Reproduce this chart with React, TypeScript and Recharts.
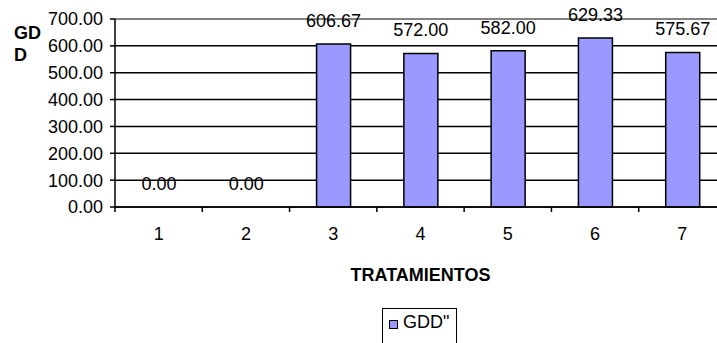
import React from 'react';
import { BarChart, Bar, Cell, XAxis, YAxis, CartesianGrid, Legend, LabelList, ReferenceLine } from 'recharts';

const TREATMENTS = ['1', '2', '3', '4', '5', '6', '7'];
const GDD_VALUES = [0, 0, 606.67, 572.0, 582.0, 629.33, 575.67];
const Y_TICKS = [0, 100, 200, 300, 400, 500, 600, 700];

const chartData = TREATMENTS.map((t, i) => ({ name: t, gdd: GDD_VALUES[i] }));

const FONT = '"Liberation Sans", Arial, sans-serif';
const BAR_FILL = '#9999FF';

// category ticks sit on the band boundaries, not the centres
function CategoryTick(props: any) {
  const { x, y, payload, width } = props;
  const band = width / TREATMENTS.length;
  const axisY = y - 5;
  const left = x - band / 2;
  return (
    <g>
      <line x1={left} y1={axisY} x2={left} y2={axisY + 5} stroke="#000" strokeWidth={1.5} />
      <text x={x} y={axisY + 33} textAnchor="middle" fontSize={18} fontFamily={FONT} fill="#000">
        {payload.value}
      </text>
    </g>
  );
}

function LegendBox() {
  return (
    <div
      style={{
        border: '1px solid #000',
        height: 40,
        width: 75,
        boxSizing: 'border-box',
        display: 'flex',
        alignItems: 'flex-start',
        paddingTop: 3,
        paddingLeft: 6,
        fontFamily: FONT,
        fontSize: 18,
        color: '#000',
        background: '#fff',
      }}
    >
      <span
        style={{
          display: 'inline-block',
          width: 7,
          height: 7,
          background: BAR_FILL,
          border: '1px solid #000',
          marginTop: 8,
          marginRight: 5,
        }}
      />
      <span>GDD"</span>
    </div>
  );
}

export default function App() {
  return (
    <div style={{ position: 'absolute', left: 0, top: 0, width: 717, height: 343, overflow: 'hidden', background: '#fff' }}>
      <BarChart width={740} height={343} data={chartData} margin={{ top: 19, right: 14, left: 0, bottom: 0 }}>
        <CartesianGrid vertical={false} stroke="#000" strokeWidth={1.5} />
        <ReferenceLine y={700} stroke="#808080" strokeWidth={2} />
        <XAxis
          dataKey="name"
          height={136}
          tickLine={false}
          tickSize={5}
          tickMargin={0}
          tick={<CategoryTick />}
          axisLine={{ stroke: '#000', strokeWidth: 1.5 }}
          label={{
            value: 'TRATAMIENTOS',
            position: 'insideTop',
            offset: 61,
            style: { fontFamily: FONT, fontSize: 18, fontWeight: 'bold', fill: '#000' },
          }}
        />
        <YAxis
          width={115}
          domain={[0, 700]}
          ticks={Y_TICKS}
          tickFormatter={(v: number) => v.toFixed(2)}
          tickSize={5}
          tickMargin={7}
          tickLine={{ stroke: '#000', strokeWidth: 1.5 }}
          axisLine={{ stroke: '#000', strokeWidth: 1.5 }}
          tick={{ fontFamily: FONT, fontSize: 18, fill: '#000' }}
          label={{
            content: () => (
              <text fontFamily={FONT} fontSize={18} fontWeight="bold" fill="#000">
                <tspan x={14} y={39}>GD</tspan>
                <tspan x={14} y={61}>D</tspan>
              </text>
            ),
          }}
        />
        <Legend
          verticalAlign="middle"
          align="center"
          layout="horizontal"
          wrapperStyle={{ top: 308, left: 382, width: 'auto' }}
          content={() => <LegendBox />}
        />
        <Bar
          dataKey="gdd"
          name={'GDD"'}
          fill={BAR_FILL}
          strokeWidth={1.5}
          barSize={34}
          minPointSize={0.01}
          isAnimationActive={false}
        >
          {chartData.map((d, i) => (
            <Cell key={`cell-${i}`} stroke={d.gdd === 0 ? 'none' : '#000'} fillOpacity={d.gdd === 0 ? 0 : 1} />
          ))}
          <LabelList
            dataKey="gdd"
            position="top"
            offset={17}
            formatter={(v: any) => Number(v).toFixed(2)}
            style={{ fontFamily: FONT, fontSize: 18, fill: '#000' }}
          />
        </Bar>
      </BarChart>
    </div>
  );
}
